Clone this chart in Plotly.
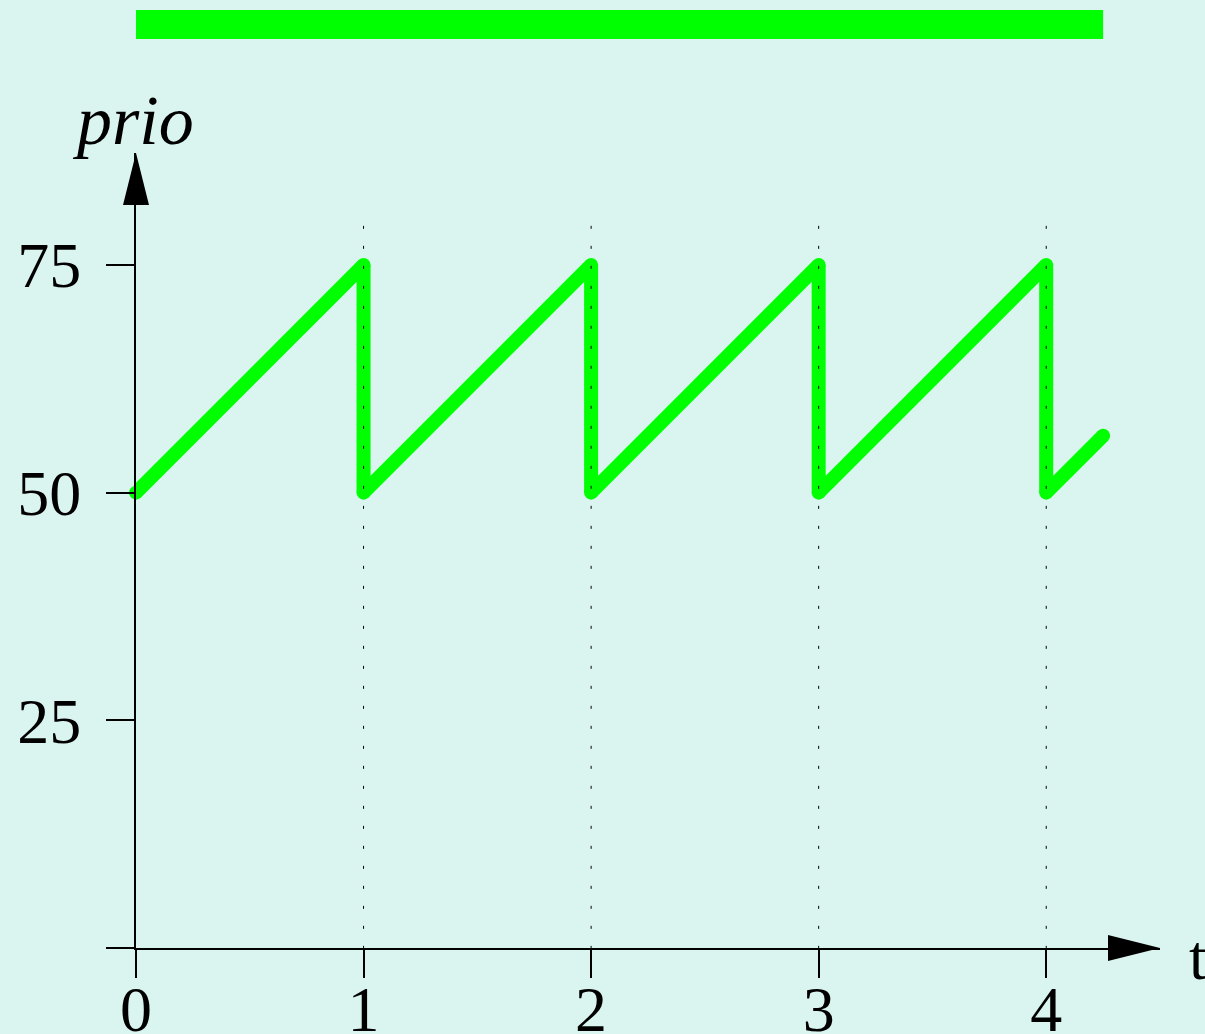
import plotly.graph_objects as go

# ---- data ----
t_vals = [0, 1, 1, 2, 2, 3, 3, 4, 4, 4.25]
prio_vals = [50, 75, 50, 75, 50, 75, 50, 75, 50, 56.25]
period_marks = [1, 2, 3, 4]
period_top = 79.3
bar_start, bar_end = 0, 4.25
x_ticks = [0, 1, 2, 3, 4]
y_ticks = [0, 25, 50, 75]
y_ticktext = ["", "25", "50", "75"]

BG = "#daf5f0"
GREEN = "#00ff00"
FONT = "Liberation Serif"

fig = go.Figure()

fig.add_trace(go.Scatter(
    x=t_vals, y=prio_vals, mode="lines+markers",
    line=dict(color=GREEN, width=14),
    marker=dict(color=GREEN, size=14, line=dict(width=0)),
    cliponaxis=False, showlegend=False, hoverinfo="skip"))

dx, dy = [], []
for p in period_marks:
    dx += [p, p, None]
    dy += [period_top, 0, None]
fig.add_trace(go.Scatter(
    x=dx, y=dy, mode="lines",
    line=dict(color="black", width=1, dash="3px,17px"),
    showlegend=False, hoverinfo="skip"))

axis_common = dict(
    showline=True, linecolor="black", linewidth=2,
    ticks="outside", ticklen=28, tickwidth=2, tickcolor="black",
    showgrid=False, zeroline=False, automargin=False,
    tickfont=dict(family=FONT, size=64, color="black"),
)

fig.update_xaxes(range=[0, 4.5], tickvals=x_ticks, ticktext=[str(v) for v in x_ticks],
                 ticklabelstandoff=-24, **axis_common)
fig.update_yaxes(range=[0, 87.3], tickvals=y_ticks, ticktext=y_ticktext,
                 ticklabelstandoff=12, **axis_common)

# top bar
fig.add_shape(type="rect", xref="x", yref="paper", x0=bar_start, x1=bar_end,
              y0=1.1434, y1=1.1799, fillcolor=GREEN, line=dict(width=0), layer="above")

# arrowheads
fig.add_shape(type="path", xref="x domain", yref="y domain", xsizemode="pixel", ysizemode="pixel",
              xanchor=1, yanchor=0, path="M0,0 L-52,13 L-52,-13 Z",
              fillcolor="black", line=dict(width=0), layer="above")
fig.add_shape(type="path", xref="x domain", yref="y domain", xsizemode="pixel", ysizemode="pixel",
              xanchor=0, yanchor=1, path="M0,0 L-13,-52 L13,-52 Z",
              fillcolor="black", line=dict(width=0), layer="above")

fig.add_annotation(text="<i>prio</i>", xref="paper", yref="paper", x=-0.003, y=1.0415,
                   xanchor="center", yanchor="middle", showarrow=False,
                   font=dict(family=FONT, size=70, color="black"))
fig.add_annotation(text="t", xref="paper", yref="paper", x=1.026, y=-0.012,
                   xanchor="left", yanchor="middle", showarrow=False,
                   font=dict(family=FONT, size=64, color="black"))

fig.update_layout(
    width=1205, height=1034, autosize=False,
    margin=dict(l=136, r=45, t=153, b=86, pad=0),
    paper_bgcolor=BG, plot_bgcolor=BG,
)

fig.write_html(
    "out.html",
    config={"displayModeBar": False},
    post_script=("document.body.style.margin='0';"
                 "document.body.style.background='%s';"
                 "document.body.style.overflow='hidden';" % BG),
)
